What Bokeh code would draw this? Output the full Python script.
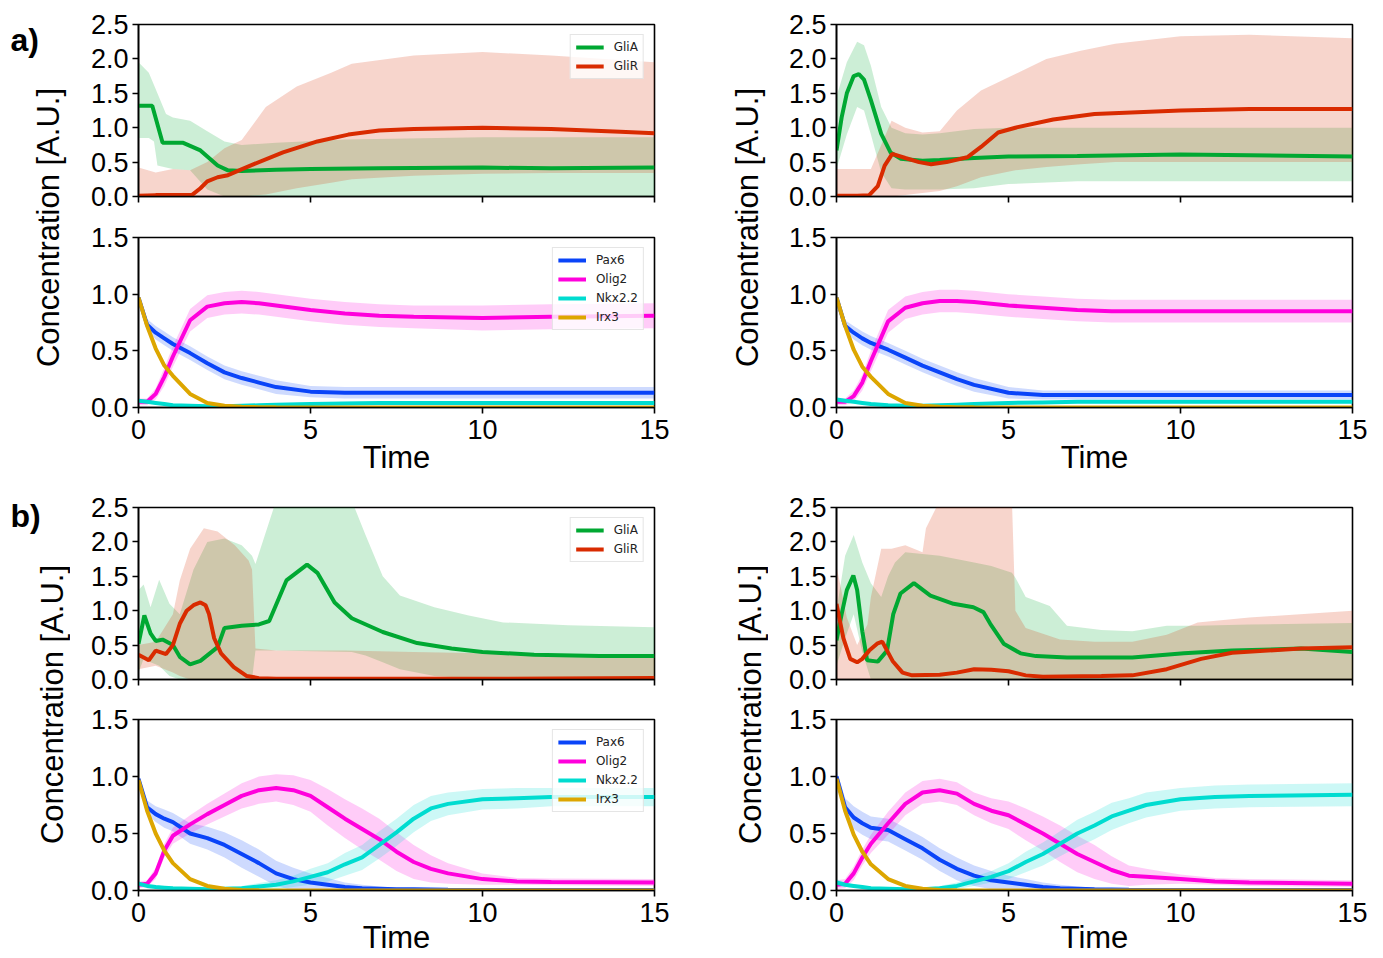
import numpy as np
from bokeh.plotting import figure
from bokeh.models import (Range1d, FixedTicker, PrintfTickFormatter, Legend,
                          LegendItem, Label)
from bokeh.layouts import row, column
from bokeh.embed import file_html
from bokeh.resources import INLINE

# ------------------------------------------------------------------ data
TIME_TICKS = [0, 5, 10, 15]
TOP_TICKS = [0.0, 0.5, 1.0, 1.5, 2.0, 2.5]
BOT_TICKS = [0.0, 0.5, 1.0, 1.5]
TOP_NAMES = ["GliA", "GliR"]
BOT_NAMES = ["Pax6", "Olig2", "Nkx2.2", "Irx3"]
PANEL_LETTERS = ["a)", "b)"]
Y_LABEL = "Concentration [A.U.]"
X_LABEL = "Time"

# ---- a) left, top panel
AL_GLIA_T = [0, 0.4, 0.55, 0.7, 1.3, 1.8, 2.3, 2.6, 3.0, 4.0, 5, 7, 10, 12, 15]
AL_GLIA = [1.32, 1.32, 1.05, 0.78, 0.78, 0.67, 0.45, 0.38, 0.37, 0.39, 0.40, 0.41, 0.42, 0.41, 0.42]
AL_GLIA_BT = [0, 0.3, 0.45, 0.55, 0.8, 1.0, 1.5, 2.0, 2.5, 3.0, 4, 6, 10, 15]
AL_GLIA_LO = [0.85, 0.85, 0.8, 0.45, 0.42, 0.4, 0.38, 0.1, 0.0, 0.0, 0.0, 0.0, 0.0, 0.0]
AL_GLIA_HI = [1.95, 1.8, 1.62, 1.5, 1.2, 1.15, 1.1, 0.95, 0.8, 0.75, 0.78, 0.83, 0.86, 0.86]
AL_GLIR_T = [0, 0.5, 1.0, 1.55, 1.8, 2.0, 2.3, 2.6, 3.25, 4.2, 5.2, 6.1, 7, 8, 10, 12, 14, 15]
AL_GLIR = [0.01, 0.02, 0.02, 0.02, 0.12, 0.22, 0.28, 0.31, 0.45, 0.64, 0.80, 0.90, 0.96, 0.98, 1.0, 0.98, 0.94, 0.92]
AL_GLIR_BT = [0, 0.5, 1.0, 1.5, 2.0, 2.5, 3.0, 3.7, 4.6, 5.6, 6.2, 8, 10, 12, 15]
AL_GLIR_LO = [0, 0, 0, 0, 0, 0, 0, 0.03, 0.12, 0.2, 0.25, 0.3, 0.33, 0.34, 0.34]
AL_GLIR_HI = [0.42, 0.35, 0.4, 0.38, 0.5, 0.7, 0.82, 1.3, 1.6, 1.8, 1.93, 2.05, 2.1, 2.05, 1.95]

# ---- a) right, top panel
AR_GLIA_T = [0, 0.15, 0.3, 0.5, 0.65, 0.8, 1.0, 1.3, 1.57, 1.86, 2.5, 3, 4, 5, 7, 10, 12, 15]
AR_GLIA = [0.67, 1.15, 1.5, 1.75, 1.78, 1.7, 1.4, 0.91, 0.64, 0.55, 0.52, 0.53, 0.56, 0.58, 0.59, 0.61, 0.6, 0.58]
AR_GLIA_BT = [0, 0.3, 0.6, 0.8, 1.0, 1.3, 1.6, 2.0, 2.5, 3.0, 4, 5, 7, 10, 15]
AR_GLIA_LO = [0.4, 0.9, 1.3, 1.25, 0.9, 0.35, 0.12, 0.1, 0.1, 0.1, 0.12, 0.18, 0.22, 0.22, 0.22]
AR_GLIA_HI = [1.45, 1.95, 2.25, 2.2, 1.9, 1.3, 1.0, 0.92, 0.9, 0.92, 0.98, 1.0, 1.0, 1.0, 1.0]
AR_GLIR_T = [0, 0.6, 0.95, 1.2, 1.4, 1.62, 2.0, 2.4, 2.75, 3.2, 3.8, 4.2, 4.7, 5.2, 6.3, 7.5, 10, 12, 15]
AR_GLIR = [0.01, 0.01, 0.02, 0.15, 0.45, 0.62, 0.56, 0.5, 0.47, 0.5, 0.57, 0.72, 0.93, 1.0, 1.12, 1.2, 1.25, 1.27, 1.27]
AR_GLIR_BT = [0, 1.0, 1.3, 1.6, 2.0, 2.5, 3.0, 3.5, 4.2, 5.2, 6.1, 7.1, 8.1, 10, 12, 15]
AR_GLIR_LO = [0, 0, 0, 0, 0.02, 0.05, 0.08, 0.15, 0.28, 0.38, 0.43, 0.47, 0.5, 0.5, 0.5, 0.5]
AR_GLIR_HI = [0.4, 0.4, 0.75, 1.1, 1.0, 0.93, 0.95, 1.25, 1.54, 1.78, 2.0, 2.12, 2.22, 2.33, 2.35, 2.3]

# ---- b) left, top panel
BL_GLIA_T = [0, 0.17, 0.35, 0.5, 0.7, 1.0, 1.2, 1.5, 1.8, 2.3, 2.5, 3.0, 3.5, 3.8, 4.3, 4.9, 5.2,
             5.7, 6.2, 7.1, 8.1, 9.1, 10, 11.5, 13.4, 15]
BL_GLIA = [0.52, 0.93, 0.67, 0.56, 0.58, 0.5, 0.33, 0.22, 0.27, 0.47, 0.75, 0.78, 0.8, 0.85, 1.44,
           1.67, 1.55, 1.12, 0.89, 0.69, 0.53, 0.45, 0.4, 0.36, 0.34, 0.34]
BL_GLIA_BT = [0, 0.15, 0.35, 0.6, 0.9, 1.2, 1.6, 2.0, 2.5, 3.0, 3.3, 3.4, 4.0, 6.2, 6.6, 7.1, 7.6,
              8.6, 9.6, 10.6, 12.5, 15]
BL_GLIA_LO = [0.1, 0.3, 0.25, 0.2, 0.05, 0.0, 0.0, 0.0, 0.0, 0.0, 0.0, 0.42, 0.42, 0.4, 0.35, 0.25,
              0.15, 0.05, 0.02, 0.0, 0.0, 0.0]
BL_GLIA_HI = [1.3, 1.38, 1.05, 1.45, 1.1, 0.95, 1.6, 2.0, 2.05, 1.95, 1.8, 1.68, 2.6, 2.6, 2.1, 1.5,
              1.22, 1.05, 0.93, 0.83, 0.79, 0.76]
BL_GLIR_T = [0, 0.3, 0.5, 0.8, 1.0, 1.2, 1.4, 1.6, 1.8, 1.95, 2.05, 2.2, 2.4, 2.77, 3.15, 3.5, 4, 6, 10, 15]
BL_GLIR = [0.36, 0.28, 0.42, 0.37, 0.5, 0.81, 1.0, 1.08, 1.12, 1.08, 0.95, 0.6, 0.38, 0.18, 0.05,
           0.02, 0.01, 0.01, 0.01, 0.02]
BL_GLIR_BT = [0, 0.5, 1.0, 1.2, 1.5, 1.9, 2.3, 2.8, 3.2, 3.3, 3.4, 4, 6, 8, 10, 15]
BL_GLIR_LO = [0.15, 0.2, 0.1, 0.05, 0, 0, 0, 0, 0, 0, 0, 0, 0, 0, 0, 0]
BL_GLIR_HI = [0.5, 0.55, 0.95, 1.44, 1.9, 2.2, 2.15, 1.95, 1.73, 1.6, 0.45, 0.42, 0.42, 0.4, 0.38, 0.35]

# ---- b) right, top panel
BR_GLIA_T = [0, 0.15, 0.3, 0.49, 0.6, 0.75, 0.89, 1.2, 1.47, 1.65, 1.86, 2.25, 2.73, 3.4, 3.98,
             4.27, 4.47, 4.86, 5.35, 5.8, 6.7, 8.6, 10.1, 11.5, 13.5, 15]
BR_GLIA = [0.57, 0.95, 1.3, 1.51, 1.3, 0.7, 0.28, 0.26, 0.42, 0.95, 1.25, 1.4, 1.22, 1.1, 1.05,
           0.98, 0.81, 0.52, 0.38, 0.34, 0.32, 0.32, 0.38, 0.42, 0.45, 0.4]
BR_GLIA_BT = [0, 0.25, 0.5, 0.75, 1.0, 1.3, 1.5, 1.7, 2.0, 3.0, 4.0, 4.5, 5.1, 5.2, 5.5, 6.2, 6.7,
              7.7, 8.6, 9.6, 10.5, 12, 15]
BR_GLIA_LO = [0.2, 0.6, 0.95, 0.4, 0, 0, 0, 0, 0, 0, 0, 0, 0, 0, 0, 0, 0, 0, 0, 0, 0, 0, 0]
BR_GLIA_HI = [1.0, 1.8, 2.1, 1.7, 1.4, 1.2, 1.5, 1.7, 1.85, 1.8, 1.7, 1.65, 1.55, 1.48, 1.2, 1.07,
              0.78, 0.72, 0.7, 0.78, 0.78, 0.8, 0.82]
BR_GLIR_T = [0, 0.2, 0.4, 0.6, 0.75, 0.95, 1.18, 1.33, 1.63, 1.92, 2.2, 3.0, 3.5, 4.0, 4.5, 5.0,
             5.5, 6.0, 7.7, 8.6, 9.6, 10.6, 11.5, 13.5, 15]
BR_GLIR = [1.1, 0.6, 0.3, 0.25, 0.3, 0.42, 0.52, 0.55, 0.27, 0.1, 0.06, 0.07, 0.1, 0.15, 0.14, 0.12,
           0.06, 0.04, 0.05, 0.06, 0.15, 0.3, 0.39, 0.45, 0.47]
BR_GLIR_BT = [0, 0.3, 0.6, 0.9, 1.0, 1.3, 1.6, 2.0, 2.5, 2.6, 3.0, 5.1, 5.2, 5.5, 6.5, 7.5, 8.6,
              9.6, 10.5, 12, 15]
BR_GLIR_LO = [0, 0, 0, 0, 0, 0, 0, 0, 0, 0, 0, 0, 0, 0, 0, 0, 0, 0, 0, 0, 0]
BR_GLIR_HI = [1.65, 0.9, 0.5, 0.8, 1.2, 1.9, 1.9, 1.95, 1.85, 2.2, 2.6, 2.6, 1.0, 0.75, 0.58, 0.55,
              0.55, 0.65, 0.83, 0.9, 1.0]

# ---- a) bottom panels (common time grid)
TA = [0, 0.25, 0.5, 0.75, 1, 1.5, 2, 2.5, 3, 3.5, 4, 5, 6, 7, 8, 10, 12, 15]
AL_PAX6 = [0.97, 0.73, 0.66, 0.61, 0.56, 0.48, 0.39, 0.31, 0.26, 0.22, 0.18, 0.14, 0.13, 0.13, 0.13, 0.13, 0.13, 0.13]
AL_PAX6_SD = [0.02, 0.05, 0.06, 0.06, 0.06, 0.06, 0.06, 0.06, 0.06, 0.06, 0.06, 0.05, 0.05, 0.05, 0.05, 0.05, 0.05, 0.05]
AL_OLIG2 = [0.05, 0.05, 0.12, 0.27, 0.45, 0.77, 0.89, 0.92, 0.93, 0.92, 0.9, 0.86, 0.83, 0.81, 0.8, 0.79, 0.8, 0.81]
AL_OLIG2_SD = [0.03, 0.03, 0.05, 0.08, 0.09, 0.1, 0.1, 0.1, 0.1, 0.1, 0.1, 0.1, 0.1, 0.1, 0.1, 0.11, 0.11, 0.11]
AL_NKX = [0.06, 0.05, 0.04, 0.03, 0.02, 0.015, 0.01, 0.01, 0.015, 0.02, 0.025, 0.03, 0.035, 0.04, 0.04, 0.04, 0.04, 0.04]
AL_NKX_SD = [0.015, 0.015, 0.01, 0.01, 0.01, 0.01, 0.01, 0.01, 0.01, 0.01, 0.01, 0.015, 0.015, 0.015, 0.015, 0.015, 0.015, 0.015]
AL_IRX3 = [0.97, 0.72, 0.52, 0.37, 0.28, 0.12, 0.04, 0.015, 0.006, 0.003, 0.002, 0.001, 0.001, 0.001, 0.001, 0.001, 0.001, 0.001]
AL_IRX3_SD = [0.02, 0.02, 0.02, 0.02, 0.015, 0.01, 0.005, 0.003, 0.002, 0.001, 0.001, 0.001, 0.001, 0.001, 0.001, 0.001, 0.001, 0.001]

AR_PAX6 = [0.97, 0.72, 0.66, 0.61, 0.57, 0.51, 0.44, 0.37, 0.31, 0.25, 0.2, 0.13, 0.11, 0.11, 0.11, 0.11, 0.11, 0.11]
AR_PAX6_SD = [0.02, 0.05, 0.06, 0.06, 0.06, 0.06, 0.06, 0.06, 0.06, 0.06, 0.06, 0.05, 0.04, 0.04, 0.04, 0.04, 0.04, 0.04]
AR_OLIG2 = [0.05, 0.05, 0.1, 0.22, 0.41, 0.76, 0.88, 0.92, 0.94, 0.94, 0.93, 0.9, 0.88, 0.86, 0.85, 0.85, 0.85, 0.85]
AR_OLIG2_SD = [0.03, 0.03, 0.05, 0.07, 0.09, 0.1, 0.1, 0.1, 0.1, 0.1, 0.1, 0.1, 0.1, 0.1, 0.1, 0.1, 0.1, 0.1]
AR_NKX = [0.07, 0.06, 0.05, 0.04, 0.03, 0.02, 0.015, 0.015, 0.02, 0.025, 0.03, 0.04, 0.045, 0.05, 0.05, 0.05, 0.05, 0.05]
AR_NKX_SD = [0.015, 0.015, 0.01, 0.01, 0.01, 0.01, 0.01, 0.01, 0.01, 0.01, 0.01, 0.015, 0.015, 0.015, 0.015, 0.015, 0.015, 0.015]
AR_IRX3 = [0.97, 0.72, 0.51, 0.36, 0.27, 0.12, 0.04, 0.015, 0.006, 0.003, 0.002, 0.001, 0.001, 0.001, 0.001, 0.001, 0.001, 0.001]
AR_IRX3_SD = [0.02, 0.02, 0.02, 0.02, 0.015, 0.01, 0.005, 0.003, 0.002, 0.001, 0.001, 0.001, 0.001, 0.001, 0.001, 0.001, 0.001, 0.001]

# ---- b) bottom panels (common time grid)
TB = [0, 0.25, 0.5, 0.75, 1, 1.5, 2, 2.5, 3, 3.5, 4, 4.5, 5, 5.5, 6, 6.5, 7, 7.5, 8, 8.5, 9, 10, 11, 12, 15]
BL_PAX6 = [0.98, 0.73, 0.67, 0.63, 0.6, 0.5, 0.46, 0.4, 0.32, 0.24, 0.15, 0.1, 0.07, 0.05, 0.03, 0.02,
           0.015, 0.01, 0.01, 0.008, 0.006, 0.005, 0.005, 0.005, 0.005]
BL_PAX6_SD = [0.02, 0.06, 0.07, 0.08, 0.08, 0.09, 0.1, 0.11, 0.12, 0.12, 0.11, 0.1, 0.08, 0.06, 0.04,
              0.03, 0.02, 0.015, 0.01, 0.01, 0.01, 0.01, 0.01, 0.01, 0.01]
BL_OLIG2 = [0.05, 0.06, 0.15, 0.35, 0.48, 0.58, 0.67, 0.75, 0.83, 0.88, 0.9, 0.88, 0.83, 0.73, 0.63,
            0.54, 0.45, 0.34, 0.25, 0.19, 0.15, 0.1, 0.08, 0.075, 0.07]
BL_OLIG2_SD = [0.03, 0.03, 0.05, 0.06, 0.07, 0.08, 0.09, 0.1, 0.11, 0.12, 0.12, 0.13, 0.14, 0.16, 0.17,
               0.18, 0.18, 0.17, 0.15, 0.12, 0.09, 0.05, 0.03, 0.03, 0.03]
BL_NKX = [0.06, 0.04, 0.03, 0.025, 0.02, 0.015, 0.01, 0.015, 0.02, 0.035, 0.05, 0.08, 0.12, 0.16, 0.23,
          0.29, 0.4, 0.51, 0.63, 0.72, 0.76, 0.8, 0.81, 0.82, 0.82]
BL_NKX_SD = [0.02, 0.02, 0.015, 0.01, 0.01, 0.01, 0.01, 0.015, 0.02, 0.03, 0.04, 0.05, 0.07, 0.08, 0.1,
             0.11, 0.12, 0.12, 0.12, 0.11, 0.1, 0.09, 0.09, 0.08, 0.08]
BL_IRX3 = [0.97, 0.7, 0.5, 0.35, 0.24, 0.1, 0.04, 0.015, 0.005, 0.002, 0.001, 0.001, 0.001, 0.001, 0.001,
           0.001, 0.001, 0.001, 0.001, 0.001, 0.001, 0.001, 0.001, 0.001, 0.001]
BL_IRX3_SD = [0.02, 0.02, 0.02, 0.02, 0.015, 0.01, 0.005, 0.003, 0.002, 0.001, 0.001, 0.001, 0.001, 0.001,
              0.001, 0.001, 0.001, 0.001, 0.001, 0.001, 0.001, 0.001, 0.001, 0.001, 0.001]

BR_PAX6 = [1.0, 0.73, 0.64, 0.59, 0.55, 0.53, 0.45, 0.37, 0.27, 0.19, 0.13, 0.09, 0.07, 0.05, 0.03, 0.02,
           0.015, 0.01, 0.008, 0.006, 0.005, 0.005, 0.005, 0.005, 0.005]
BR_PAX6_SD = [0.06, 0.08, 0.1, 0.1, 0.1, 0.1, 0.1, 0.1, 0.1, 0.1, 0.09, 0.08, 0.06, 0.05, 0.04, 0.03,
              0.02, 0.015, 0.01, 0.01, 0.01, 0.01, 0.01, 0.01, 0.01]
BR_OLIG2 = [0.05, 0.06, 0.15, 0.29, 0.41, 0.59, 0.76, 0.86, 0.88, 0.85, 0.76, 0.7, 0.66, 0.58, 0.5, 0.41,
            0.32, 0.25, 0.18, 0.13, 0.12, 0.1, 0.08, 0.07, 0.06]
BR_OLIG2_SD = [0.04, 0.04, 0.06, 0.07, 0.08, 0.1, 0.1, 0.1, 0.1, 0.1, 0.1, 0.11, 0.12, 0.14, 0.15, 0.16,
               0.16, 0.15, 0.12, 0.09, 0.07, 0.04, 0.03, 0.03, 0.03]
BR_NKX = [0.07, 0.05, 0.04, 0.03, 0.02, 0.015, 0.01, 0.012, 0.02, 0.04, 0.08, 0.12, 0.17, 0.25, 0.32,
          0.41, 0.5, 0.57, 0.65, 0.7, 0.75, 0.8, 0.82, 0.83, 0.84]
BR_NKX_SD = [0.03, 0.02, 0.015, 0.01, 0.01, 0.01, 0.01, 0.015, 0.02, 0.03, 0.04, 0.05, 0.07, 0.09, 0.1,
             0.11, 0.12, 0.12, 0.12, 0.11, 0.11, 0.1, 0.1, 0.1, 0.1]
BR_IRX3 = [0.98, 0.7, 0.49, 0.34, 0.23, 0.1, 0.04, 0.015, 0.005, 0.002, 0.001, 0.001, 0.001, 0.001, 0.001,
           0.001, 0.001, 0.001, 0.001, 0.001, 0.001, 0.001, 0.001, 0.001, 0.001]
BR_IRX3_SD = BL_IRX3_SD

# ------------------------------------------------------------------ style
FONT = "Liberation Sans"
COLORS = {"GliA": "#00A832", "GliR": "#D92B00", "Pax6": "#0A44F8",
          "Olig2": "#FF00DC", "Nkx2.2": "#00DCD0", "Irx3": "#DDA600"}
LW = 4
FILL_ALPHA = 0.2


def base_fig(w, h, ymax, yticks, mt, mr, mb, ml, show_x, label_standoff=-2):
    p = figure(width=w, height=h, x_range=Range1d(0, 15), y_range=Range1d(0, ymax),
               output_backend="svg", toolbar_location=None,
               min_border_top=mt, min_border_right=mr, min_border_bottom=mb,
               min_border_left=ml)
    p.grid.visible = False
    p.outline_line_color = "black"
    p.outline_line_width = 1.6
    p.outline_line_alpha = 1.0
    for ax in (p.xaxis[0], p.yaxis[0]):
        ax.axis_line_width = 1.6
        ax.axis_line_color = "black"
        ax.major_tick_line_width = 1.6
        ax.major_tick_line_color = "black"
        ax.major_tick_out = 6
        ax.major_tick_in = 0
        ax.minor_tick_line_color = None
        ax.major_label_text_font = FONT
        ax.major_label_text_font_size = "27px"
        ax.major_label_text_color = "black"
    p.xaxis.ticker = FixedTicker(ticks=TIME_TICKS)
    p.yaxis.ticker = FixedTicker(ticks=yticks)
    p.yaxis.formatter = PrintfTickFormatter(format="%.1f")
    p.yaxis.major_label_standoff = 4
    if show_x:
        p.xaxis.axis_label = X_LABEL
        p.xaxis.axis_label_text_font = FONT
        p.xaxis.axis_label_text_font_size = "31px"
        p.xaxis.axis_label_text_font_style = "normal"
        p.xaxis.axis_label_text_color = "black"
        p.xaxis.major_label_standoff = 6
        p.xaxis.axis_label_standoff = label_standoff
    else:
        p.xaxis.major_label_overrides = {t: "" for t in TIME_TICKS}
    return p


def add_legend(p, items):
    lg = Legend(items=[LegendItem(label=n, renderers=[r]) for n, r in items],
                location="top_right")
    lg.label_text_font = "DejaVu Sans"
    lg.label_text_font_size = "12px"
    lg.label_text_color = "#222222"
    lg.glyph_width = 28
    lg.glyph_height = 14
    lg.label_height = 14
    lg.spacing = 5
    lg.padding = 5
    lg.margin = 10
    lg.label_standoff = 10
    lg.border_line_color = "#cccccc"
    lg.border_line_width = 1.5
    lg.background_fill_color = "white"
    lg.background_fill_alpha = 0.8
    p.add_layout(lg)


def top_panel(w, h, mt, mr, series, legend):
    p = base_fig(w, h, 2.5, TOP_TICKS, mt, mr, 20, 68, False)
    for name, (t, m, bt, lo, hi) in zip(TOP_NAMES, series):
        p.varea(x=bt, y1=lo, y2=hi, fill_color=COLORS[name], fill_alpha=FILL_ALPHA)
    rs = []
    for name, (t, m, bt, lo, hi) in zip(TOP_NAMES, series):
        rs.append((name, p.line(t, m, line_color=COLORS[name], line_width=LW)))
    if legend:
        add_legend(p, rs)
    return p


def bottom_panel(w, h, mt, mr, mb, t, series, legend, label_standoff):
    p = base_fig(w, h, 1.5, BOT_TICKS, mt, mr, mb, 68, True, label_standoff)
    tt = np.array(t)
    for name, (m, sd) in zip(BOT_NAMES, series):
        m = np.array(m); sd = np.array(sd)
        p.varea(x=tt, y1=np.clip(m - sd, 0, None), y2=m + sd,
                fill_color=COLORS[name], fill_alpha=FILL_ALPHA)
    rs = []
    for name, (m, sd) in zip(BOT_NAMES, series):
        rs.append((name, p.line(tt, m, line_color=COLORS[name], line_width=LW)))
    if legend:
        add_legend(p, rs)
    return p


def label_fig(h, letter, lx, ly, cx, cy):
    w = 70
    p = figure(width=w, height=h, x_range=Range1d(0, w), y_range=Range1d(h, 0),
               output_backend="svg", toolbar_location=None, min_border=0,
               x_axis_type=None, y_axis_type=None)
    p.grid.visible = False
    p.outline_line_color = None
    if letter:
        p.add_layout(Label(x=lx, y=ly, text=letter, text_font=FONT, text_font_style="bold",
                           text_font_size="32px", text_baseline="alphabetic",
                           text_align="left", text_color="black"))
    p.add_layout(Label(x=cx, y=cy, text=Y_LABEL, text_font=FONT, text_font_size="31px",
                       angle=np.pi / 2, text_align="center", text_baseline="middle",
                       text_color="black"))
    return p


# ---- a)
aL_top = top_panel(628, 216, 24, 44, [(AL_GLIA_T, AL_GLIA, AL_GLIA_BT, AL_GLIA_LO, AL_GLIA_HI),
                                      (AL_GLIR_T, AL_GLIR, AL_GLIR_BT, AL_GLIR_LO, AL_GLIR_HI)], True)
aR_top = top_panel(615, 216, 24, 31, [(AR_GLIA_T, AR_GLIA, AR_GLIA_BT, AR_GLIA_LO, AR_GLIA_HI),
                                      (AR_GLIR_T, AR_GLIR, AR_GLIR_BT, AR_GLIR_LO, AR_GLIR_HI)], False)
aL_bot = bottom_panel(628, 271, 21, 44, 80, TA,
                      [(AL_PAX6, AL_PAX6_SD), (AL_OLIG2, AL_OLIG2_SD),
                       (AL_NKX, AL_NKX_SD), (AL_IRX3, AL_IRX3_SD)], True, -2)
aR_bot = bottom_panel(615, 271, 21, 31, 80, TA,
                      [(AR_PAX6, AR_PAX6_SD), (AR_OLIG2, AR_OLIG2_SD),
                       (AR_NKX, AR_NKX_SD), (AR_IRX3, AR_IRX3_SD)], False, -2)

# ---- b)
bL_top = top_panel(628, 212, 20, 44, [(BL_GLIA_T, BL_GLIA, BL_GLIA_BT, BL_GLIA_LO, BL_GLIA_HI),
                                      (BL_GLIR_T, BL_GLIR, BL_GLIR_BT, BL_GLIR_LO, BL_GLIR_HI)], True)
bR_top = top_panel(615, 212, 20, 31, [(BR_GLIA_T, BR_GLIA, BR_GLIA_BT, BR_GLIA_LO, BR_GLIA_HI),
                                      (BR_GLIR_T, BR_GLIR, BR_GLIR_BT, BR_GLIR_LO, BR_GLIR_HI)], False)
bL_bot = bottom_panel(628, 259, 20, 44, 68, TB,
                      [(BL_PAX6, BL_PAX6_SD), (BL_OLIG2, BL_OLIG2_SD),
                       (BL_NKX, BL_NKX_SD), (BL_IRX3, BL_IRX3_SD)], True, -5)
bR_bot = bottom_panel(615, 259, 20, 31, 68, TB,
                      [(BR_PAX6, BR_PAX6_SD), (BR_OLIG2, BR_OLIG2_SD),
                       (BR_NKX, BR_NKX_SD), (BR_IRX3, BR_IRX3_SD)], False, -5)

lab_aL = label_fig(487, PANEL_LETTERS[0], 10, 39, 48, 227)
lab_aR = label_fig(487, None, 0, 0, 49, 227)
lab_bL = label_fig(471, PANEL_LETTERS[1], 10, 28, 52, 217)
lab_bR = label_fig(471, None, 0, 0, 52, 217)

layout = column(
    row(row(lab_aL, column(aL_top, aL_bot)), row(lab_aR, column(aR_top, aR_bot))),
    row(row(lab_bL, column(bL_top, bL_bot)), row(lab_bR, column(bR_top, bR_bot))),
)

open("out.html", "w").write(file_html(layout, INLINE))
